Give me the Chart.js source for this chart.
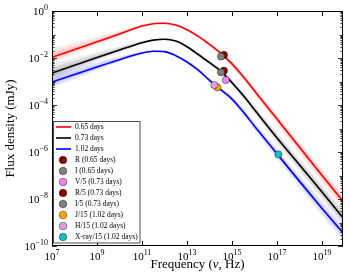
<!DOCTYPE html>
<html>
<head>
<meta charset="utf-8">
<script src="https://cdn.jsdelivr.net/npm/chart.js@4"></script>
<style>
  html, body { margin: 0; padding: 0; background: #fff; }
  #wrap { width: 350px; height: 280px; }
</style>
</head>
<body>
<div id="wrap"><canvas id="myChart" width="350" height="280"></canvas></div>
<script>
// log10 of frequency (Hz) where the model curves were read
const logNu = [7, 8, 9, 10, 11, 11.5, 12, 12.5, 13, 13.5, 14, 14.5, 15, 15.5, 16, 17, 18, 19, 20];
// log10 of flux density (mJy) for each epoch
const red065 = [-1.97, -1.64, -1.31, -0.98, -0.64, -0.54, -0.52, -0.60, -0.80, -1.08, -1.42, -1.80, -2.25, -2.80, -3.40, -4.60, -5.80, -7.00, -8.18];
const black073 = [-2.64, -2.31, -1.98, -1.66, -1.35, -1.24, -1.20, -1.28, -1.52, -1.85, -2.20, -2.56, -3.05, -3.60, -4.20, -5.40, -6.55, -7.70, -8.88];
const blue102 = [-3.02, -2.70, -2.38, -2.07, -1.79, -1.71, -1.73, -1.90, -2.17, -2.52, -2.95, -3.35, -3.75, -4.30, -4.90, -6.08, -7.25, -8.40, -9.52];
// spread of the faint model bands (dex above / below the curve)
const bandUp = [0.38, 0.30, 0.22, 0.15, 0.08, 0.05, 0.05, 0.05, 0.06, 0.08, 0.10, 0.12, 0.14, 0.16, 0.18, 0.22, 0.26, 0.30, 0.34];
const bandDown = [0.25, 0.20, 0.15, 0.10, 0.06, 0.04, 0.04, 0.05, 0.06, 0.08, 0.10, 0.12, 0.14, 0.16, 0.18, 0.22, 0.26, 0.30, 0.34];

const lineLabels = ['0.65 days', '0.73 days', '1.02 days'];
const lineColors = ['#ff0000', '#000000', '#0000ff'];
const bandRgb = ['255,0,0', '0,0,0', '0,0,255'];

const pointLabels = ['R (0.65 days)', 'I (0.65 days)', 'V/5 (0.73 days)', 'R/5 (0.73 days)', 'I/5 (0.73 days)', 'J/15 (1.02 days)', 'H/15 (1.02 days)', 'X-ray/15 (1.02 days)'];
const pointNu = [14.64, 14.51, 14.72, 14.64, 14.51, 14.35, 14.21, 17.06];
const pointFlux = [-1.87, -1.94, -2.94, -2.54, -2.61, -3.25, -3.15, -6.10];
const pointColors = ['#8b0000', '#808080', '#ee82ee', '#8b0000', '#808080', '#ffa500', '#dda0dd', '#17bfbf'];

const xTicks = [7, 9, 11, 13, 15, 17, 19];
const yTicks = [0, -2, -4, -6, -8, -10];

// the band is drawn as a few nested fills so it fades out like the original
const bandLayers = [1, 0.65, 0.35];

function toXY(arr, shift, sign, f) {
    return arr.map(function(v, i) {
        let s = shift ? sign * shift[i] * f : 0;
        return { x: Math.pow(10, logNu[i]), y: Math.pow(10, v + s) };
    });
}

const curves = [red065, black073, blue102];
const datasets = [];
curves.forEach(function(c, k) {
    bandLayers.forEach(function(f) {
        datasets.push({
            kind: 'band', data: toXY(c, bandUp, 1, f), showLine: true, borderWidth: 0,
            pointRadius: 0, fill: false, cubicInterpolationMode: 'monotone', order: 100
        });
        datasets.push({
            kind: 'band', data: toXY(c, bandDown, -1, f), showLine: true, borderWidth: 0,
            pointRadius: 0, fill: '-1', backgroundColor: 'rgba(' + bandRgb[k] + ',0.08)',
            cubicInterpolationMode: 'monotone', order: 100
        });
    });
    datasets.push({
        kind: 'line', label: lineLabels[k], data: toXY(c), showLine: true,
        borderColor: lineColors[k], borderWidth: 1.6, pointRadius: 0, fill: false,
        cubicInterpolationMode: 'monotone', order: 50
    });
});
pointLabels.forEach(function(lab, i) {
    datasets.push({
        kind: 'point', label: lab,
        data: [{ x: Math.pow(10, pointNu[i]), y: Math.pow(10, pointFlux[i]) }],
        showLine: false, pointRadius: 3.6, pointBackgroundColor: pointColors[i],
        pointBorderColor: '#000', pointBorderWidth: 0.4, order: 20 - i
    });
});

function drawPow(ctx, exp, x, y, align) {
    const base = '10';
    const ex = exp < 0 ? '\u2212' + Math.abs(exp) : String(exp);
    ctx.font = '11px "Liberation Serif"';
    const wb = ctx.measureText(base).width;
    ctx.font = '8px "Liberation Serif"';
    const we = ctx.measureText(ex).width;
    let x0 = align === 'center' ? x - (wb + we) / 2 : x - (wb + we);
    ctx.textAlign = 'left';
    ctx.textBaseline = 'alphabetic';
    ctx.font = '11px "Liberation Serif"';
    ctx.fillText(base, x0, y);
    ctx.font = '8px "Liberation Serif"';
    ctx.fillText(ex, x0 + wb, y - 5);
}

const decor = {
    id: 'decor',
    afterDraw(chart) {
        const ctx = chart.ctx;
        const a = chart.chartArea;
        const xs = chart.scales.x, ys = chart.scales.y;
        ctx.save();
        ctx.strokeStyle = '#000';
        ctx.fillStyle = '#000';
        ctx.lineWidth = 1;
        ctx.strokeRect(a.left + 0.5, a.top + 0.5, a.right - a.left - 1, a.bottom - a.top - 1);

        // x ticks
        ctx.beginPath();
        xTicks.forEach(function(e) {
            const px = Math.round(xs.getPixelForValue(Math.pow(10, e))) + 0.5;
            ctx.moveTo(px, a.bottom); ctx.lineTo(px, a.bottom - 5);
            ctx.moveTo(px, a.top); ctx.lineTo(px, a.top + 5);
        });
        ctx.stroke();
        xTicks.forEach(function(e) {
            drawPow(ctx, e, xs.getPixelForValue(Math.pow(10, e)), a.bottom + 14, 'center');
        });

        // y ticks, major and minor
        ctx.beginPath();
        ctx.lineWidth = 0.8;
        for (let e = -10; e < 0; e++) {
            for (let m = 1; m < 10; m++) {
                const v = m * Math.pow(10, e);
                const py = Math.round(ys.getPixelForValue(v)) + 0.5;
                let len = m === 1 ? (e % 2 === 0 ? 5 : 3.5) : 2.5;
                ctx.moveTo(a.left, py); ctx.lineTo(a.left + len, py);
                ctx.moveTo(a.right, py); ctx.lineTo(a.right - len, py);
            }
        }
        const p0 = Math.round(ys.getPixelForValue(1)) + 0.5;
        ctx.moveTo(a.left, p0); ctx.lineTo(a.left + 5, p0);
        ctx.moveTo(a.right, p0); ctx.lineTo(a.right - 5, p0);
        ctx.stroke();
        yTicks.forEach(function(e) {
            drawPow(ctx, e, a.left - 4, ys.getPixelForValue(Math.pow(10, e)) + 4, 'right');
        });

        // axis titles
        ctx.textBaseline = 'alphabetic';
        ctx.textAlign = 'left';
        const parts = [['Frequency (', ''], ['\u03bd', 'italic '], [', Hz)', '']];
        let tw = 0;
        parts.forEach(function(p) { ctx.font = p[1] + '13px "Liberation Serif"'; tw += ctx.measureText(p[0]).width; });
        let tx = (a.left + a.right) / 2 - tw / 2;
        parts.forEach(function(p) {
            ctx.font = p[1] + '13px "Liberation Serif"';
            ctx.fillText(p[0], tx, 268);
            tx += ctx.measureText(p[0]).width;
        });
        ctx.save();
        ctx.translate(14, (a.top + a.bottom) / 2);
        ctx.rotate(-Math.PI / 2);
        ctx.textAlign = 'center';
        ctx.font = '13px "Liberation Serif"';
        ctx.fillText('Flux density (mJy)', 0, 0);
        ctx.restore();

        // legend
        const items = chart.data.datasets.filter(function(d) { return d.kind === 'line' || d.kind === 'point'; });
        ctx.fillStyle = 'rgba(255,255,255,0.85)';
        ctx.fillRect(53, 121, 87, 122);
        ctx.strokeStyle = '#222';
        ctx.lineWidth = 0.8;
        ctx.strokeRect(53.5, 121.5, 86.5, 121.5);
        items.forEach(function(d, i) {
            const ry = 127 + i * 11;
            if (d.kind === 'line') {
                ctx.strokeStyle = d.borderColor;
                ctx.lineWidth = 1.6;
                ctx.beginPath(); ctx.moveTo(56, ry); ctx.lineTo(71, ry); ctx.stroke();
            } else {
                ctx.beginPath();
                ctx.arc(63, ry, 3.8, 0, Math.PI * 2);
                ctx.fillStyle = d.pointBackgroundColor;
                ctx.fill();
                ctx.strokeStyle = '#000'; ctx.lineWidth = 0.4; ctx.stroke();
            }
            ctx.fillStyle = '#000';
            ctx.font = '7.5px "Liberation Serif"';
            ctx.textAlign = 'left';
            ctx.textBaseline = 'middle';
            ctx.fillText(d.label, 75, ry + 0.5);
        });
        ctx.restore();
    }
};

const config = {
    type: 'scatter',
    data: { datasets },
    options: {
        responsive: false,
        animation: false,
        layout: { padding: { left: 52, right: 7, top: 11, bottom: 34 } },
        plugins: { legend: { display: false }, tooltip: { enabled: false } },
        scales: {
            x: { type: 'logarithmic', display: false, min: 1e7, max: Math.pow(10, 19.93) },
            y: { type: 'logarithmic', display: false, min: 1e-10, max: 1 }
        }
    },
    plugins: [decor]
};

new Chart(document.getElementById('myChart'), config);
</script>
</body>
</html>
